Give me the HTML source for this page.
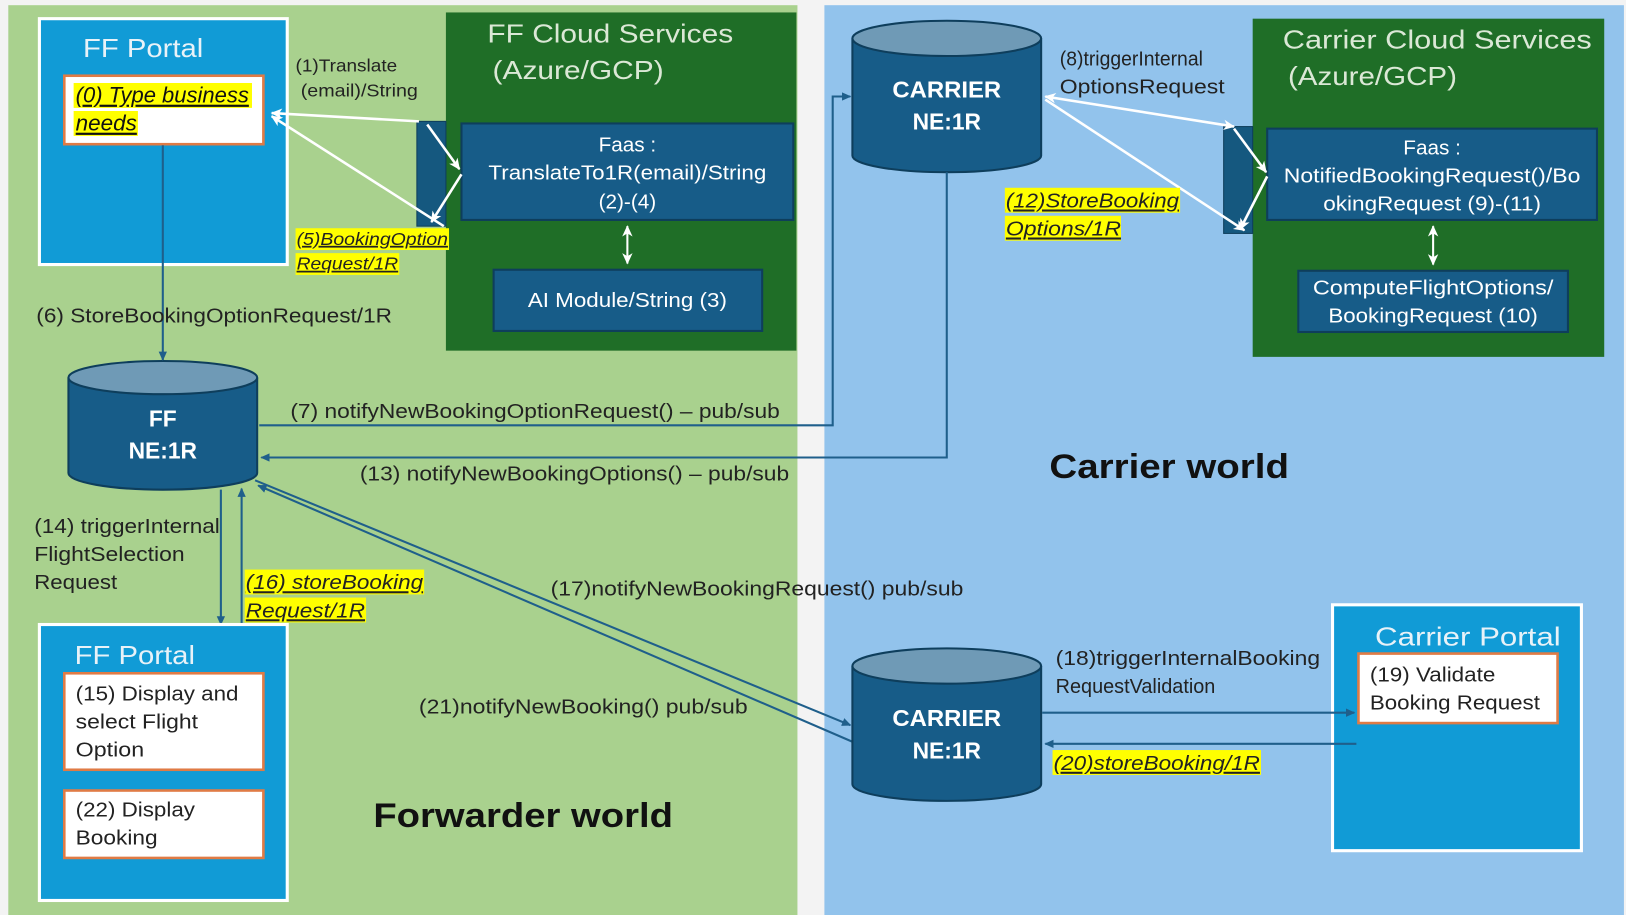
<!DOCTYPE html>
<html><head><meta charset="utf-8"><style>
html,body{margin:0;padding:0;background:#f3f3f3;}
svg{display:block;}
text{font-family:"Liberation Sans",sans-serif;}
</style></head><body>
<svg width="1626" height="915" viewBox="0 0 1568 882" preserveAspectRatio="none" xmlns="http://www.w3.org/2000/svg">
<defs>
<marker id="ab" markerWidth="10" markerHeight="10" refX="8" refY="5" orient="auto" markerUnits="userSpaceOnUse"><path d="M0,1 L9,5 L0,9 z" fill="#1f5f8b"/></marker>
<marker id="aw" markerWidth="12" markerHeight="12" refX="10" refY="6" orient="auto" markerUnits="userSpaceOnUse"><path d="M0,1 L11,6 L0,11 L3,6 z" fill="#fff"/></marker>
<marker id="aws" markerWidth="12" markerHeight="12" refX="1" refY="6" orient="auto" markerUnits="userSpaceOnUse"><path d="M11,1 L0,6 L11,11 L8,6 z" fill="#fff"/></marker>
</defs>
<rect x="0" y="0" width="1568" height="882" fill="#f3f3f3"/>
<rect x="8" y="5" width="761" height="877" fill="#a9d18e"/>
<rect x="795" y="5" width="771" height="877" fill="#92c3ec"/>

<rect x="38" y="18" width="239" height="237" fill="#119bd6" stroke="#fff" stroke-width="3"/>
<text x="80" y="55" font-size="25" fill="#e8f2f8" textLength="116" lengthAdjust="spacingAndGlyphs">FF Portal</text>
<rect x="62" y="73" width="192" height="66" fill="#fff" stroke="#e07b45" stroke-width="2.5"/>
<rect x="71" y="80" width="172" height="24" fill="#ffff00"/>
<rect x="71" y="107" width="62" height="24" fill="#ffff00"/>
<text x="73" y="99" font-size="21" font-style="italic" text-decoration="underline" fill="#111" textLength="167" lengthAdjust="spacingAndGlyphs">(0) Type business</text>
<text x="73" y="126" font-size="21" font-style="italic" text-decoration="underline" fill="#111" textLength="59" lengthAdjust="spacingAndGlyphs">needs</text>

<rect x="430" y="12" width="338" height="326" fill="#1f6e27"/>
<text x="470" y="41" font-size="25" fill="#dbe8d6" textLength="237" lengthAdjust="spacingAndGlyphs">FF Cloud Services</text>
<text x="475" y="76" font-size="25" fill="#dbe8d6" textLength="165" lengthAdjust="spacingAndGlyphs">(Azure/GCP)</text>
<rect x="402" y="117" width="28" height="101" fill="#15587f" stroke="#0e3e5c"/>
<rect x="445" y="119" width="320" height="93" fill="#175c88" stroke="#0e3e5c" stroke-width="2"/>
<text x="605" y="146" font-size="20" fill="#fff" text-anchor="middle">Faas :</text>
<text x="605" y="173" font-size="20" fill="#fff" text-anchor="middle" textLength="268" lengthAdjust="spacingAndGlyphs">TranslateTo1R(email)/String</text>
<text x="605" y="201" font-size="20" fill="#fff" text-anchor="middle">(2)-(4)</text>
<rect x="476" y="260" width="259" height="59" fill="#175c88" stroke="#0e3e5c" stroke-width="2"/>
<text x="605" y="296" font-size="20" fill="#fff" text-anchor="middle" textLength="192" lengthAdjust="spacingAndGlyphs">AI Module/String (3)</text>
<line x1="605" y1="218" x2="605" y2="254" stroke="#fff" stroke-width="2" marker-end="url(#aw)" marker-start="url(#aws)"/>

<line x1="262" y1="109" x2="404" y2="117" stroke="#fff" stroke-width="2.5" marker-start="url(#aws)"/>
<line x1="412" y1="120" x2="443" y2="163" stroke="#fff" stroke-width="2.5" marker-end="url(#aw)"/>
<line x1="445" y1="168" x2="416" y2="214" stroke="#fff" stroke-width="2.5" marker-end="url(#aw)"/>
<line x1="262" y1="112" x2="428" y2="218" stroke="#fff" stroke-width="2.5" marker-start="url(#aws)"/>
<text x="285" y="69" font-size="17" fill="#222" textLength="98" lengthAdjust="spacingAndGlyphs">(1)Translate</text>
<text x="290" y="93" font-size="17" fill="#222" textLength="113" lengthAdjust="spacingAndGlyphs">(email)/String</text>
<rect x="285" y="220" width="148" height="21" fill="#ffff00"/>
<rect x="285" y="244" width="100" height="21" fill="#ffff00"/>
<text x="286" y="236" font-size="17" font-style="italic" text-decoration="underline" fill="#222" textLength="146" lengthAdjust="spacingAndGlyphs">(5)BookingOption</text>
<text x="286" y="260" font-size="17" font-style="italic" text-decoration="underline" fill="#222" textLength="98" lengthAdjust="spacingAndGlyphs">Request/1R</text>

<path d="M822,37 L822,150 A91,16 0 0 0 1004,150 L1004,37" fill="#175c88" stroke="#0e3e5c" stroke-width="2"/>
<ellipse cx="913" cy="37" rx="91" ry="17" fill="#6f9ab6" stroke="#0e3e5c" stroke-width="2"/>
<text x="913" y="94" font-size="22" font-weight="bold" fill="#fff" text-anchor="middle" textLength="105" lengthAdjust="spacingAndGlyphs">CARRIER</text>
<text x="913" y="125" font-size="22" font-weight="bold" fill="#fff" text-anchor="middle">NE:1R</text>

<rect x="1208" y="18" width="339" height="326" fill="#1f6e27"/>
<text x="1237" y="47" font-size="25" fill="#dbe8d6" textLength="298" lengthAdjust="spacingAndGlyphs">Carrier Cloud Services</text>
<text x="1242" y="82" font-size="25" fill="#dbe8d6" textLength="163" lengthAdjust="spacingAndGlyphs">(Azure/GCP)</text>
<rect x="1180" y="122" width="28" height="103" fill="#15587f" stroke="#0e3e5c"/>
<rect x="1222" y="124" width="318" height="88" fill="#175c88" stroke="#0e3e5c" stroke-width="2"/>
<text x="1381" y="149" font-size="20" fill="#fff" text-anchor="middle">Faas :</text>
<text x="1381" y="176" font-size="20" fill="#fff" text-anchor="middle" textLength="286" lengthAdjust="spacingAndGlyphs">NotifiedBookingRequest()/Bo</text>
<text x="1381" y="203" font-size="20" fill="#fff" text-anchor="middle" textLength="210" lengthAdjust="spacingAndGlyphs">okingRequest (9)-(11)</text>
<rect x="1252" y="261" width="260" height="59" fill="#175c88" stroke="#0e3e5c" stroke-width="2"/>
<text x="1382" y="284" font-size="20" fill="#fff" text-anchor="middle" textLength="232" lengthAdjust="spacingAndGlyphs">ComputeFlightOptions/</text>
<text x="1382" y="311" font-size="20" fill="#fff" text-anchor="middle" textLength="202" lengthAdjust="spacingAndGlyphs">BookingRequest (10)</text>
<line x1="1382" y1="218" x2="1382" y2="255" stroke="#fff" stroke-width="2" marker-end="url(#aw)" marker-start="url(#aws)"/>

<line x1="1008" y1="93" x2="1190" y2="122" stroke="#fff" stroke-width="2.5" marker-end="url(#aw)" marker-start="url(#aws)"/>
<line x1="1190" y1="124" x2="1221" y2="166" stroke="#fff" stroke-width="2.5" marker-end="url(#aw)"/>
<line x1="1222" y1="170" x2="1196" y2="221" stroke="#fff" stroke-width="2.5" marker-end="url(#aw)"/>
<line x1="1008" y1="96" x2="1200" y2="222" stroke="#fff" stroke-width="2.5" marker-end="url(#aw)"/>
<text x="1022" y="63" font-size="20" fill="#222" textLength="138" lengthAdjust="spacingAndGlyphs">(8)triggerInternal</text>
<text x="1022" y="90" font-size="20" fill="#222" textLength="159" lengthAdjust="spacingAndGlyphs">OptionsRequest</text>
<rect x="969" y="181" width="169" height="24" fill="#ffff00"/>
<rect x="969" y="208" width="112" height="24" fill="#ffff00"/>
<text x="970" y="200" font-size="20" font-style="italic" text-decoration="underline" fill="#222" textLength="167" lengthAdjust="spacingAndGlyphs">(12)StoreBooking</text>
<text x="970" y="227" font-size="20" font-style="italic" text-decoration="underline" fill="#222" textLength="111" lengthAdjust="spacingAndGlyphs">Options/1R</text>

<path d="M66,364 L66,456 A91,16 0 0 0 248,456 L248,364" fill="#175c88" stroke="#0e3e5c" stroke-width="2"/>
<ellipse cx="157" cy="364" rx="91" ry="16" fill="#6f9ab6" stroke="#0e3e5c" stroke-width="2"/>
<text x="157" y="411" font-size="22" font-weight="bold" fill="#fff" text-anchor="middle">FF</text>
<text x="157" y="442" font-size="22" font-weight="bold" fill="#fff" text-anchor="middle">NE:1R</text>

<line x1="157" y1="140" x2="157" y2="347" stroke="#1f5f8b" stroke-width="2" marker-end="url(#ab)"/>
<text x="35" y="311" font-size="20" fill="#222" textLength="343" lengthAdjust="spacingAndGlyphs">(6) StoreBookingOptionRequest/1R</text>

<polyline points="250,410 803,410 803,93 820,93" fill="none" stroke="#1f5f8b" stroke-width="2" marker-end="url(#ab)"/>
<text x="280" y="403" font-size="20" fill="#222" textLength="472" lengthAdjust="spacingAndGlyphs">(7) notifyNewBookingOptionRequest() – pub/sub</text>
<polyline points="913,166 913,441 252,441" fill="none" stroke="#1f5f8b" stroke-width="2" marker-end="url(#ab)"/>
<text x="347" y="463" font-size="20" fill="#222" textLength="414" lengthAdjust="spacingAndGlyphs">(13) notifyNewBookingOptions() – pub/sub</text>

<text x="1012" y="461" font-size="33" font-weight="bold" fill="#111" textLength="231" lengthAdjust="spacingAndGlyphs">Carrier world</text>
<text x="360" y="797" font-size="33" font-weight="bold" fill="#111" textLength="289" lengthAdjust="spacingAndGlyphs">Forwarder world</text>

<line x1="213" y1="472" x2="213" y2="602" stroke="#1f5f8b" stroke-width="2" marker-end="url(#ab)"/>
<line x1="233" y1="602" x2="233" y2="471" stroke="#1f5f8b" stroke-width="2" marker-end="url(#ab)"/>
<text x="33" y="514" font-size="20" fill="#222" textLength="179" lengthAdjust="spacingAndGlyphs">(14) triggerInternal</text>
<text x="33" y="541" font-size="20" fill="#222" textLength="145" lengthAdjust="spacingAndGlyphs">FlightSelection</text>
<text x="33" y="568" font-size="20" fill="#222" textLength="80" lengthAdjust="spacingAndGlyphs">Request</text>
<rect x="236" y="549" width="173" height="24" fill="#ffff00"/>
<rect x="236" y="576" width="117" height="24" fill="#ffff00"/>
<text x="237" y="568" font-size="20" font-style="italic" text-decoration="underline" fill="#222" textLength="171" lengthAdjust="spacingAndGlyphs">(16) storeBooking</text>
<text x="237" y="595" font-size="20" font-style="italic" text-decoration="underline" fill="#222" textLength="115" lengthAdjust="spacingAndGlyphs">Request/1R</text>

<line x1="246" y1="463" x2="820" y2="699" stroke="#1f5f8b" stroke-width="2" marker-end="url(#ab)"/>
<line x1="822" y1="715" x2="249" y2="468" stroke="#1f5f8b" stroke-width="2" marker-end="url(#ab)"/>
<text x="531" y="574" font-size="20" fill="#222" textLength="398" lengthAdjust="spacingAndGlyphs">(17)notifyNewBookingRequest() pub/sub</text>
<text x="404" y="688" font-size="20" fill="#222" textLength="317" lengthAdjust="spacingAndGlyphs">(21)notifyNewBooking() pub/sub</text>

<path d="M822,642 L822,756 A91,16 0 0 0 1004,756 L1004,642" fill="#175c88" stroke="#0e3e5c" stroke-width="2"/>
<ellipse cx="913" cy="642" rx="91" ry="17" fill="#6f9ab6" stroke="#0e3e5c" stroke-width="2"/>
<text x="913" y="700" font-size="22" font-weight="bold" fill="#fff" text-anchor="middle" textLength="105" lengthAdjust="spacingAndGlyphs">CARRIER</text>
<text x="913" y="731" font-size="22" font-weight="bold" fill="#fff" text-anchor="middle">NE:1R</text>

<rect x="38" y="602" width="239" height="266" fill="#119bd6" stroke="#fff" stroke-width="3"/>
<text x="72" y="640" font-size="25" fill="#e8f2f8" textLength="116" lengthAdjust="spacingAndGlyphs">FF Portal</text>
<rect x="62" y="649" width="192" height="93" fill="#fff" stroke="#e07b45" stroke-width="2.5"/>
<text x="73" y="675" font-size="20" fill="#222" textLength="157" lengthAdjust="spacingAndGlyphs">(15) Display and</text>
<text x="73" y="702" font-size="20" fill="#222" textLength="118" lengthAdjust="spacingAndGlyphs">select Flight</text>
<text x="73" y="729" font-size="20" fill="#222" textLength="66" lengthAdjust="spacingAndGlyphs">Option</text>
<rect x="62" y="762" width="192" height="65" fill="#fff" stroke="#e07b45" stroke-width="2.5"/>
<text x="73" y="787" font-size="20" fill="#222" textLength="115" lengthAdjust="spacingAndGlyphs">(22) Display</text>
<text x="73" y="814" font-size="20" fill="#222" textLength="79" lengthAdjust="spacingAndGlyphs">Booking</text>

<rect x="1285" y="583" width="240" height="237" fill="#119bd6" stroke="#fff" stroke-width="3"/>
<text x="1326" y="622" font-size="25" fill="#e8f2f8" textLength="179" lengthAdjust="spacingAndGlyphs">Carrier Portal</text>
<rect x="1310" y="630" width="192" height="67" fill="#fff" stroke="#e07b45" stroke-width="2.5"/>
<text x="1321" y="657" font-size="20" fill="#222" textLength="121" lengthAdjust="spacingAndGlyphs">(19) Validate</text>
<text x="1321" y="684" font-size="20" fill="#222" textLength="164" lengthAdjust="spacingAndGlyphs">Booking Request</text>

<line x1="1005" y1="687" x2="1306" y2="687" stroke="#1f5f8b" stroke-width="2" marker-end="url(#ab)"/>
<line x1="1308" y1="717" x2="1008" y2="717" stroke="#1f5f8b" stroke-width="2" marker-end="url(#ab)"/>
<text x="1018" y="641" font-size="20" fill="#222" textLength="255" lengthAdjust="spacingAndGlyphs">(18)triggerInternalBooking</text>
<text x="1018" y="668" font-size="20" fill="#222" textLength="154" lengthAdjust="spacingAndGlyphs">RequestValidation</text>
<rect x="1015" y="723" width="201" height="24" fill="#ffff00"/>
<text x="1016" y="742" font-size="20" font-style="italic" text-decoration="underline" fill="#222" textLength="199" lengthAdjust="spacingAndGlyphs">(20)storeBooking/1R</text>
</svg>
</body></html>
